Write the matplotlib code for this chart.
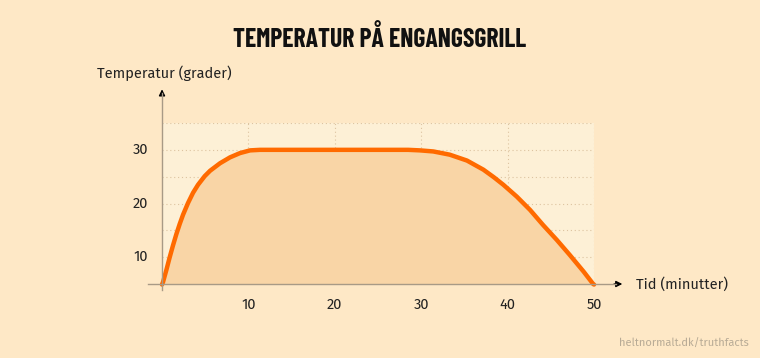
import matplotlib.pyplot as plt

# aflæste punkter (minutter, grader)
tid = [0, 0.12, 0.5, 0.89, 1.27, 1.66, 2.05, 2.43, 3.01, 3.59, 4.17, 4.94, 5.56,
       6.71, 7.87, 9.03, 10.19, 11.34, 15, 20, 25, 28.5, 29.86, 31.4, 33.3, 35.3,
       37.2, 38.4, 39.5, 41.05, 42.6, 44.1, 45.7, 47.2, 48.8, 49.9, 50]
temp = [4.9, 5.4, 7.6, 10.0, 12.2, 14.3, 16.2, 17.9, 20.1, 22.0, 23.5, 25.1, 26.1,
        27.5, 28.6, 29.4, 29.9, 30, 30, 30, 30, 30, 29.9, 29.7, 29.1, 28.0,
        26.3, 24.9, 23.5, 21.3, 18.8, 16.0, 13.2, 10.4, 7.3, 5.0, 4.9]
x_ticks = [10, 20, 30, 40, 50]
y_ticks = [10, 20, 30]

bg = "#fee8c6"
plt.rcParams["font.family"] = ["Fira Sans", "Lato", "DejaVu Sans"]

fig = plt.figure(figsize=(7.6, 3.58), dpi=100, facecolor=bg)
ax = fig.add_axes([0.2132, 0.2067, 0.5684, 0.4497])
ax.set_facecolor("#fdf0d6")
ax.set_xlim(0, 50)
ax.set_ylim(5, 35)

for g in [10, 15, 20, 25, 30, 35]:
    ax.axhline(g, color="#dcc3a0", lw=0.8, ls=(0, (1, 2.5)), zorder=1)
for g in x_ticks:
    ax.axvline(g, color="#dcc3a0", lw=0.8, ls=(0, (1, 2.5)), zorder=1)

ax.fill_between(tid, temp, 5, color="#f9d5a6", zorder=2, lw=0)
ax.plot(tid, temp, color="#ff6a00", lw=3.2, solid_capstyle="round",
        solid_joinstyle="round", zorder=3, clip_on=False)

for s in ax.spines.values():
    s.set_visible(False)
ax.set_xticks([])
ax.set_yticks([])

# akser med pile
ax.plot([-1.6, 52.5], [5, 5], color="#a89a86", lw=1, clip_on=False, zorder=4)
ax.plot([0, 0], [3.9, 40.5], color="#a89a86", lw=1, clip_on=False, zorder=4)
ax.annotate("", xy=(53.6, 5), xytext=(52.0, 5), annotation_clip=False,
            arrowprops=dict(arrowstyle="-|>", color="black", lw=1, mutation_scale=9))
ax.annotate("", xy=(0, 41.8), xytext=(0, 39.8), annotation_clip=False,
            arrowprops=dict(arrowstyle="-|>", color="black", lw=1, mutation_scale=9))

for t in x_ticks:
    ax.text(t, 1.2, str(t), ha="center", va="center", fontsize=10.5, color="#222222")
for t in y_ticks:
    ax.text(-1.6, t, str(t), ha="right", va="center", fontsize=10.5, color="#222222")

ax.text(54.9, 5, "Tid (minutter)", ha="left", va="center", fontsize=10.5, color="#222222")
ax.text(-7.5, 44.2, "Temperatur (grader)", ha="left", va="center", fontsize=10.5, color="#222222")

fig.text(0.5, 0.893, "TEMPERATUR PÅ ENGANGSGRILL", ha="center", va="center",
         fontsize=18.5, fontweight="bold",
         family=["Barlow Condensed", "Roboto Condensed", "Oswald", "DejaVu Sans"],
         color="#111111")
fig.text(0.985, 0.04, "heltnormalt.dk/truthfacts", ha="right", va="center",
         fontsize=8, color="#b8ab96")

fig.savefig("out.png", dpi=100, facecolor=bg)
